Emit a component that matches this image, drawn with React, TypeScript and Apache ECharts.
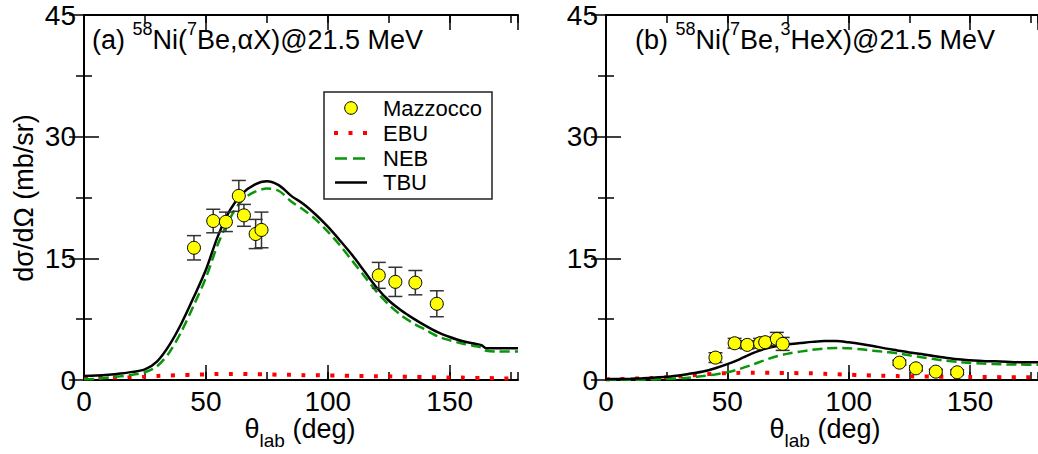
import React, { useEffect, useRef } from "react";
import * as echarts from "echarts";

const FONT = "'Liberation Sans', Arial, Helvetica, sans-serif";

// Experimental data (Mazzocco) – shared angles
const expAngles = [45.1, 53.0, 58.2, 63.5, 65.6, 70.4, 72.8, 120.9, 127.7, 135.9, 144.7];
const alphaExp = [16.3, 19.6, 19.5, 22.7, 20.3, 18.0, 18.5, 12.9, 12.1, 12.0, 9.4];
const alphaErr = [1.5, 1.45, 1.2, 1.9, 1.35, 1.8, 2.2, 1.6, 1.8, 1.5, 1.6];
const heExp = [2.76, 4.53, 4.33, 4.53, 4.66, 5.07, 4.45, 2.14, 1.44, 1.03, 0.95];
const heErr = [0.6, 0.6, 0.5, 0.6, 0.6, 0.8, 0.8, 0.3, 0.3, 0.3, 0.3];

// Panel (a) calculations
const thetaA = [0, 5, 10, 15, 20, 25, 30, 35, 40, 45, 50, 55, 60, 65, 70, 75, 80, 85, 90, 95, 100, 105, 110, 115, 120, 125, 130, 135, 140, 145, 150, 155, 160, 163, 165, 170, 178];
const tbuA = [0.5, 0.55, 0.65, 0.8, 1.0, 1.3, 2.3, 4.3, 7.0, 10.2, 13.6, 17.8, 21.0, 23.0, 24.1, 24.5, 24.0, 22.7, 21.7, 20.4, 18.9, 17.2, 15.4, 13.4, 11.4, 9.8, 8.6, 7.6, 6.7, 5.9, 5.3, 4.8, 4.5, 4.3, 3.9, 3.9, 3.9];
const nebA = [0.1, 0.15, 0.3, 0.45, 0.65, 0.95, 1.7, 3.4, 6.0, 9.2, 12.6, 16.8, 20.0, 22.2, 23.2, 23.6, 23.3, 22.0, 21.0, 19.8, 18.3, 16.6, 14.7, 12.8, 10.9, 9.3, 8.0, 7.0, 6.2, 5.4, 4.9, 4.5, 4.2, 4.0, 3.6, 3.5, 3.5];
const ebuA = [0.3, 0.3, 0.3, 0.3, 0.35, 0.4, 0.5, 0.55, 0.6, 0.65, 0.7, 0.75, 0.75, 0.75, 0.7, 0.7, 0.65, 0.65, 0.6, 0.6, 0.55, 0.55, 0.5, 0.5, 0.45, 0.45, 0.4, 0.4, 0.35, 0.35, 0.3, 0.3, 0.25, 0.25, 0.25, 0.2, 0.2];

// Panel (b) calculations
const thetaB = [0, 5, 10, 15, 20, 25, 30, 35, 40, 45, 50, 55, 60, 65, 70, 75, 80, 85, 90, 95, 100, 105, 110, 115, 120, 125, 130, 135, 140, 145, 150, 155, 160, 165, 170, 178];
const tbuB = [0.1, 0.12, 0.16, 0.22, 0.3, 0.4, 0.55, 0.8, 1.05, 1.45, 1.95, 2.55, 3.25, 3.8, 4.15, 4.4, 4.55, 4.7, 4.8, 4.8, 4.65, 4.45, 4.2, 3.9, 3.65, 3.4, 3.2, 2.95, 2.75, 2.55, 2.45, 2.35, 2.3, 2.25, 2.2, 2.2];
const nebB = [0, 0, 0.02, 0.04, 0.07, 0.12, 0.2, 0.32, 0.48, 0.68, 0.95, 1.35, 1.85, 2.4, 2.9, 3.25, 3.5, 3.72, 3.88, 3.95, 3.9, 3.78, 3.62, 3.46, 3.3, 3.05, 2.8, 2.58, 2.38, 2.22, 2.1, 2.02, 1.96, 1.92, 1.9, 1.88];
const ebuB = [0.1, 0.12, 0.15, 0.2, 0.25, 0.33, 0.42, 0.55, 0.68, 0.78, 0.85, 0.88, 0.9, 0.9, 0.88, 0.86, 0.84, 0.82, 0.76, 0.7, 0.65, 0.6, 0.55, 0.51, 0.48, 0.45, 0.43, 0.42, 0.4, 0.4, 0.38, 0.37, 0.36, 0.35, 0.35, 0.35];

const xMax = 178;
const yTicks = { min: 0, max: 45, interval: 15 };
const legendNames = ["Mazzocco", "EBU", "NEB", "TBU"];

const RED = "#ff0000";
const GREEN = "#0a960a";
const TICK_FONT = 28;

function makeXAxes(gridIndex: number) {
  const base = { gridIndex, type: "value", min: 0, max: xMax, splitLine: { show: false } };
  const major = {
    ...base,
    interval: 50,
    axisTick: { show: true, inside: true, length: 15, lineStyle: { color: "#000", width: 1.5 } },
  };
  const minor = {
    ...base,
    interval: 25,
    axisLine: { show: false },
    axisTick: { show: true, inside: true, length: 8, lineStyle: { color: "#000", width: 1.5 } },
    axisLabel: { show: false },
  };
  return [
    {
      ...major,
      position: "bottom",
      axisLine: { show: true, lineStyle: { color: "#000", width: 2 } },
      axisLabel: {
        show: true,
        fontSize: TICK_FONT,
        lineHeight: 26,
        color: "#000",
        fontFamily: FONT,
        margin: 8,
        showMaxLabel: false,
      },
    },
    { ...minor, position: "bottom" },
    {
      ...major,
      position: "top",
      axisLine: { show: true, lineStyle: { color: "#000", width: 2 } },
      axisLabel: { show: false },
    },
    { ...minor, position: "top" },
  ];
}

function makeYAxes(gridIndex: number) {
  const base = {
    gridIndex,
    type: "value",
    ...yTicks,
    splitLine: { show: false },
    axisLine: { show: true, lineStyle: { color: "#000", width: 2 } },
    axisTick: { show: true, inside: true, length: 15, lineStyle: { color: "#000", width: 1.5 } },
    minorTick: { show: true, splitNumber: 2, length: 8, lineStyle: { color: "#000", width: 1.5 } },
  };
  return [
    { ...base, position: "left", axisLabel: { show: true, fontSize: TICK_FONT, color: "#000", fontFamily: FONT, margin: 8 } },
    { ...base, position: "right", axisLabel: { show: false } },
  ];
}

function pairs(xs: number[], ys: number[]) {
  return xs.map((x, i) => [x, ys[i]]);
}

function curveSeries(name: string, xs: number[], ys: number[], xi: number, yi: number) {
  const styles: Record<string, any> = {
    TBU: { color: "#000", width: 2.5, type: "solid" },
    NEB: { color: GREEN, width: 2.5, type: [10, 5] },
    EBU: { color: RED, width: 4, type: [4, 10.5], cap: "butt" },
  };
  return {
    name,
    type: "line",
    xAxisIndex: xi,
    yAxisIndex: yi,
    data: pairs(xs, ys),
    showSymbol: false,
    symbol: "none",
    smooth: 0.3,
    lineStyle: styles[name],
    z: 2,
    silent: true,
  };
}

function errorSeries(vals: number[], errs: number[], xi: number, yi: number) {
  return {
    type: "custom",
    xAxisIndex: xi,
    yAxisIndex: yi,
    data: expAngles.map((a, i) => [a, vals[i], errs[i]]),
    encode: { x: 0, y: 1 },
    z: 3,
    silent: true,
    renderItem: (_p: any, api: any) => {
      const x = api.value(0);
      const y = api.value(1);
      const e = api.value(2);
      const t = api.coord([x, y + e]);
      const b = api.coord([x, y - e]);
      const w = 7;
      const st = { stroke: "#333", lineWidth: 1.5 };
      return {
        type: "group",
        children: [
          { type: "line", shape: { x1: t[0], y1: t[1], x2: b[0], y2: b[1] }, style: st },
          { type: "line", shape: { x1: t[0] - w, y1: t[1], x2: t[0] + w, y2: t[1] }, style: st },
          { type: "line", shape: { x1: b[0] - w, y1: b[1], x2: b[0] + w, y2: b[1] }, style: st },
        ],
      };
    },
  };
}

function pointSeries(vals: number[], xi: number, yi: number) {
  return {
    name: "Mazzocco",
    type: "scatter",
    xAxisIndex: xi,
    yAxisIndex: yi,
    data: pairs(expAngles, vals),
    symbol: "circle",
    symbolSize: 13,
    itemStyle: { color: "#ffff00", borderColor: "#000", borderWidth: 1, opacity: 1 },
    z: 4,
    silent: true,
  };
}

// Title rich text (superscripts)
const titleRich = {
  m: { fontSize: 27, lineHeight: 40, fontFamily: FONT, fill: "#000" },
  s: { fontSize: 18, lineHeight: 18, verticalAlign: "top", fontFamily: FONT, fill: "#000" },
};

function titleEl(x: number, text: string) {
  return {
    type: "text",
    x,
    y: 20,
    silent: true,
    style: { text, rich: titleRich, fill: "#000", align: "left", verticalAlign: "top", fontFamily: FONT },
  };
}

// x-axis name: θ + subscript "lab" + " (deg)", laid out from its centre
function xNameEls(cx: number) {
  const main = 27;
  const sub = 19;
  const wTheta = 0.556 * main;
  const wLab = 1.334 * sub;
  const wRest = 2.612 * main;
  const x0 = cx - (wTheta + wLab + wRest) / 2;
  const mk = (x: number, y: number, text: string, size: number) => ({
    type: "text",
    x,
    y,
    silent: true,
    style: { text, fontSize: size, fontFamily: FONT, fill: "#000", align: "left", verticalAlign: "middle" },
  });
  return [
    mk(x0, 428.8, "θ", main),
    mk(x0 + wTheta, 440.5, "lab", sub),
    mk(x0 + wTheta + wLab, 428.8, " (deg)", main),
  ];
}

function legendEls() {
  const ys = [108, 133, 158.5, 182.5];
  const els: any[] = [
    { type: "rect", shape: { x: 324, y: 92, width: 168, height: 107 }, style: { fill: "#fff", stroke: "#222", lineWidth: 1.5 }, z: 10 },
    { type: "circle", shape: { cx: 351, cy: ys[0], r: 6.3 }, style: { fill: "#ffff00", stroke: "#000", lineWidth: 1 }, z: 11 },
    { type: "line", shape: { x1: 334, y1: ys[1], x2: 368, y2: ys[1] }, style: { stroke: RED, lineWidth: 4, lineDash: [4, 10.5], lineCap: "butt" }, z: 11 },
    { type: "line", shape: { x1: 335, y1: ys[2], x2: 365, y2: ys[2] }, style: { stroke: GREEN, lineWidth: 2.5, lineDash: [12, 6] }, z: 11 },
    { type: "line", shape: { x1: 335, y1: ys[3], x2: 367, y2: ys[3] }, style: { stroke: "#000", lineWidth: 2.5 }, z: 11 },
  ];
  legendNames.forEach((n, i) => {
    els.push({
      type: "text",
      x: 383,
      y: ys[i],
      z: 11,
      style: { text: n, fontSize: 22, fontFamily: FONT, fill: "#000", align: "left", verticalAlign: "middle" },
    });
  });
  return els;
}

export default function App() {
  const ref = useRef<HTMLDivElement>(null);
  useEffect(() => {
    if (!ref.current) return;
    const chart = echarts.init(ref.current, null, { renderer: "svg" });
    const option: any = {
      animation: false,
      backgroundColor: "#fff",
      grid: [
        { left: 84, top: 15, width: 434, height: 365 },
        { left: 606, top: 15, width: 436, height: 365 },
      ],
      xAxis: [...makeXAxes(0), ...makeXAxes(1)],
      yAxis: [...makeYAxes(0), ...makeYAxes(1)],
      series: [
        curveSeries("EBU", thetaA, ebuA, 0, 0),
        curveSeries("NEB", thetaA, nebA, 0, 0),
        curveSeries("TBU", thetaA, tbuA, 0, 0),
        errorSeries(alphaExp, alphaErr, 0, 0),
        pointSeries(alphaExp, 0, 0),
        curveSeries("EBU", thetaB, ebuB, 4, 2),
        curveSeries("NEB", thetaB, nebB, 4, 2),
        curveSeries("TBU", thetaB, tbuB, 4, 2),
        errorSeries(heExp, heErr, 4, 2),
        pointSeries(heExp, 4, 2),
      ],
      graphic: [
        titleEl(92, "{m|(a) }{s|58}{m|Ni(}{s|7}{m|Be,αX)@21.5 MeV}"),
        titleEl(635, "{m|(b) }{s|58}{m|Ni(}{s|7}{m|Be,}{s|3}{m|HeX)@21.5 MeV}"),
        ...xNameEls(300),
        ...xNameEls(825),
        {
          type: "text",
          x: 24,
          y: 198,
          rotation: Math.PI / 2,
          silent: true,
          style: { text: "dσ/dΩ (mb/sr)", fontSize: 27, fontFamily: FONT, fill: "#000", align: "center", verticalAlign: "middle" },
        },
        ...legendEls(),
      ],
    };
    chart.setOption(option);
    return () => chart.dispose();
  }, []);
  return <div ref={ref} style={{ position: "fixed", left: 0, top: 0, width: 1038, height: 454 }} />;
}
